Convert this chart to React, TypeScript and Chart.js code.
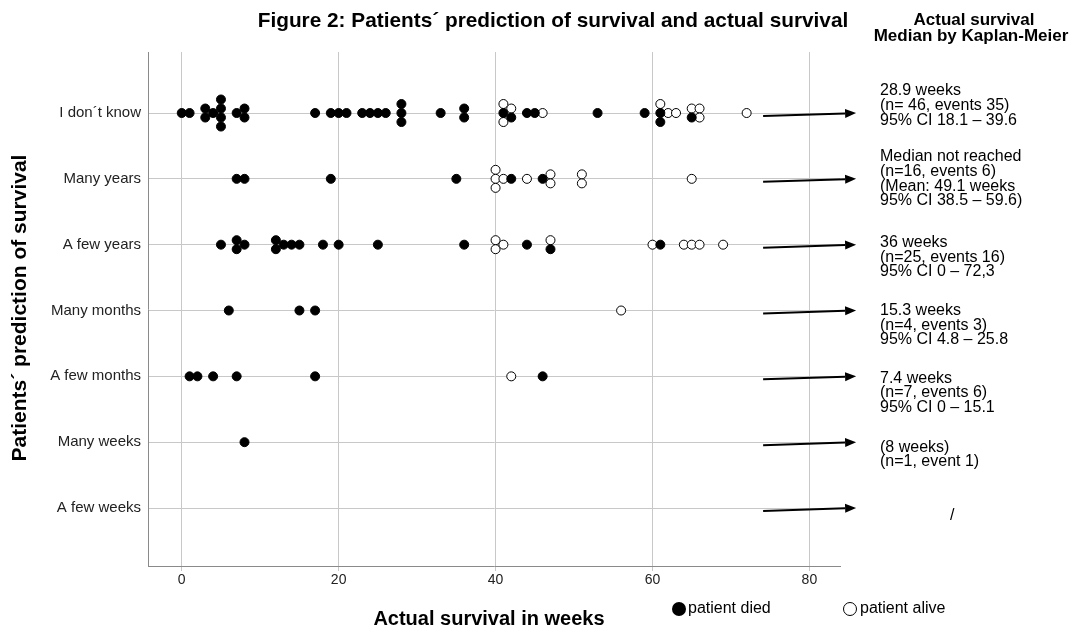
import { useEffect, useRef } from "react";
import { Chart, registerables } from "chart.js";

Chart.register(...registerables);

const FONT = "'Liberation Sans', Arial, sans-serif";

// Categories (top to bottom)
const categories = [
  "I don´t know",
  "Many years",
  "A few years",
  "Many months",
  "A few months",
  "Many weeks",
  "A few weeks",
];

// Actual survival in weeks, per category, by status
const dontKnowDied = [0, 1, 3, 3, 4, 5, 5, 5, 5, 7, 8, 8, 17, 19, 20, 21, 23, 24, 25, 26, 28, 28, 28, 33, 36, 36, 41, 42, 44, 45, 53, 59, 61, 61, 65];
const dontKnowAlive = [41, 41, 42, 46, 61, 62, 63, 65, 66, 66, 72];
const manyYearsDied = [7, 8, 19, 35, 42, 46];
const manyYearsAlive = [40, 40, 40, 41, 44, 47, 47, 51, 51, 65];
const fewYearsDied = [5, 7, 7, 8, 12, 12, 13, 14, 15, 18, 20, 25, 36, 44, 47, 61];
const fewYearsAlive = [40, 40, 41, 47, 60, 64, 65, 66, 69];
const manyMonthsDied = [6, 15, 17];
const manyMonthsAlive = [56];
const fewMonthsDied = [1, 2, 4, 7, 17, 46];
const fewMonthsAlive = [42];
const manyWeeksDied = [8];
const manyWeeksAlive: number[] = [];
const fewWeeksDied: number[] = [];
const fewWeeksAlive: number[] = [];

const diedByRow = [dontKnowDied, manyYearsDied, fewYearsDied, manyMonthsDied, fewMonthsDied, manyWeeksDied, fewWeeksDied];
const aliveByRow = [dontKnowAlive, manyYearsAlive, fewYearsAlive, manyMonthsAlive, fewMonthsAlive, manyWeeksAlive, fewWeeksAlive];

const xTickValues = [0, 20, 40, 60, 80];
const xTickLabels = ["0", "20", "40", "60", "80"];

// Kaplan-Meier annotations per category
const kmText: string[][] = [
  ["28.9 weeks", "(n= 46, events 35)", "95% CI 18.1 \u2013 39.6"],
  ["Median not reached", "(n=16, events 6)", "(Mean: 49.1 weeks", "95% CI 38.5 \u2013 59.6)"],
  ["36 weeks", "(n=25, events 16)", "95% CI 0 \u2013 72,3"],
  ["15.3 weeks", "(n=4, events 3)", "95% CI 4.8 \u2013 25.8"],
  ["7.4 weeks", "(n=7, events 6)", "95% CI 0 \u2013 15.1"],
  ["(8 weeks)", "(n=1, event 1)"],
  ["/"],
];

// layout constants (pixels)
const TEXT_SHIFT = [-22, -22, -2, 0, 2, 5, 8];
const TEXT_X = [880, 880, 880, 880, 880, 880, 950];
const ARROW_FROM_WEEK = 74.1;
const STACK_STEP = 0.137; // vertical spacing of stacked dots, in category units

function buildPoints(kind: "died" | "alive") {
  const pts: { x: number; y: number }[] = [];
  categories.forEach((_, row) => {
    const died = diedByRow[row];
    const alive = aliveByRow[row];
    const weeks = Array.from(new Set([...died, ...alive])).sort((a, b) => a - b);
    weeks.forEach((w) => {
      const d = died.filter((v) => v === w).length;
      const a = alive.filter((v) => v === w).length;
      const aTop = Math.ceil(a / 2);
      const order: string[] = [];
      for (let i = 0; i < aTop; i++) order.push("alive");
      for (let i = 0; i < d; i++) order.push("died");
      for (let i = 0; i < a - aTop; i++) order.push("alive");
      const n = order.length;
      order.forEach((k, i) => {
        if (k === kind) pts.push({ x: w, y: row + (i - (n - 1) / 2) * STACK_STEP });
      });
    });
  });
  return pts;
}

const overlayPlugin = {
  id: "overlay",
  afterDraw(chart: any) {
    const ctx = chart.ctx as CanvasRenderingContext2D;
    const xs = chart.scales.x;
    const ys = chart.scales.y;
    const area = chart.chartArea;
    ctx.save();
    ctx.fillStyle = "#000";
    ctx.textBaseline = "middle";

    // Title
    ctx.font = `bold 20.8px ${FONT}`;
    ctx.textAlign = "center";
    ctx.fillText("Figure 2: Patients´ prediction of survival and actual survival", 553, 21);

    // Right header
    ctx.font = `bold 17px ${FONT}`;
    ctx.fillText("Actual survival", 974, 20);
    ctx.fillText("Median by Kaplan-Meier", 971, 36);

    // Axis titles
    ctx.font = `bold 20px ${FONT}`;
    ctx.fillText("Actual survival in weeks", (area.left + area.right) / 2 - 5, 619);
    ctx.save();
    ctx.translate(20, (area.top + area.bottom) / 2 - 1);
    ctx.rotate(-Math.PI / 2);
    ctx.font = `bold 21px ${FONT}`;
    ctx.fillText("Patients´ prediction of survival", 0, 0);
    ctx.restore();

    // Arrows and annotation texts
    categories.forEach((_, i) => {
      const yr = ys.getPixelForValue(i);
      const x0 = xs.getPixelForValue(ARROW_FROM_WEEK);
      const x1 = x0 + 93;
      const y0 = yr + 3;
      const y1 = yr;
      const ang = Math.atan2(y1 - y0, x1 - x0);
      const headLen = 11;
      const headW = 4.5;
      const bx = x1 - headLen * Math.cos(ang);
      const by = y1 - headLen * Math.sin(ang);
      ctx.strokeStyle = "#000";
      ctx.lineWidth = 2;
      ctx.beginPath();
      ctx.moveTo(x0, y0);
      ctx.lineTo(bx, by);
      ctx.stroke();
      ctx.beginPath();
      ctx.moveTo(x1, y1);
      ctx.lineTo(bx + headW * Math.sin(ang), by - headW * Math.cos(ang));
      ctx.lineTo(bx - headW * Math.sin(ang), by + headW * Math.cos(ang));
      ctx.closePath();
      ctx.fill();

      ctx.font = `16px ${FONT}`;
      ctx.textAlign = "left";
      kmText[i].forEach((line, j) => {
        ctx.fillText(line, TEXT_X[i], yr + TEXT_SHIFT[i] + j * 14.7);
      });
    });

    // Legend
    ctx.font = `16px ${FONT}`;
    ctx.textAlign = "left";
    ctx.beginPath();
    ctx.arc(679, 609, 7, 0, Math.PI * 2);
    ctx.fill();
    ctx.fillText("patient died", 688, 609);
    ctx.beginPath();
    ctx.arc(850, 609, 6.5, 0, Math.PI * 2);
    ctx.lineWidth = 1;
    ctx.stroke();
    ctx.fillText("patient alive", 860, 609);

    ctx.restore();
  },
};

export default function App() {
  const ref = useRef<HTMLCanvasElement | null>(null);

  useEffect(() => {
    document.body.style.margin = "0";
    const canvas = ref.current;
    if (!canvas) return;
    const chart = new Chart(canvas, {
      type: "scatter",
      data: {
        datasets: [
          {
            label: "patient died",
            data: buildPoints("died"),
            backgroundColor: "#000",
            borderColor: "#000",
            borderWidth: 1,
            pointRadius: 4.5,
          },
          {
            label: "patient alive",
            data: buildPoints("alive"),
            backgroundColor: "#fff",
            borderColor: "#000",
            borderWidth: 1,
            pointRadius: 4.5,
          },
        ],
      },
      options: {
        responsive: false,
        animation: false,
        layout: { padding: { top: 52, right: 243, bottom: 0, left: 0 } },
        plugins: { legend: { display: false }, tooltip: { enabled: false }, title: { display: false } },
        scales: {
          x: {
            type: "linear",
            min: -4.3,
            max: 83.9,
            afterBuildTicks: (s: any) => {
              s.ticks = xTickValues.map((v) => ({ value: v }));
            },
            afterFit: (s: any) => {
              s.height = 62;
            },
            ticks: {
              color: "#222",
              font: { family: FONT, size: 14 },
              padding: 1,
              callback: (v: any) => xTickLabels[xTickValues.indexOf(Number(v))] ?? "",
            },
            grid: { color: "#c8c8c8", lineWidth: 1, tickLength: 5, drawTicks: true },
            border: { color: "#8a8a8a", width: 1 },
          },
          y: {
            type: "linear",
            reverse: true,
            min: -0.927,
            max: 6.881,
            afterBuildTicks: (s: any) => {
              s.ticks = categories.map((_, i) => ({ value: i }));
            },
            afterFit: (s: any) => {
              s.width = 148;
            },
            ticks: {
              color: "#222",
              font: { family: FONT, size: 15 },
              padding: 7,
              callback: (v: any) => categories[Number(v)] ?? "",
            },
            grid: { color: "#c8c8c8", lineWidth: 1, drawTicks: false },
            border: { color: "#8a8a8a", width: 1 },
          },
        },
      },
      plugins: [overlayPlugin],
    });
    return () => chart.destroy();
  }, []);

  return (
    <div style={{ width: 1083, height: 628, background: "#fff" }}>
      <canvas ref={ref} width={1083} height={628} />
    </div>
  );
}
